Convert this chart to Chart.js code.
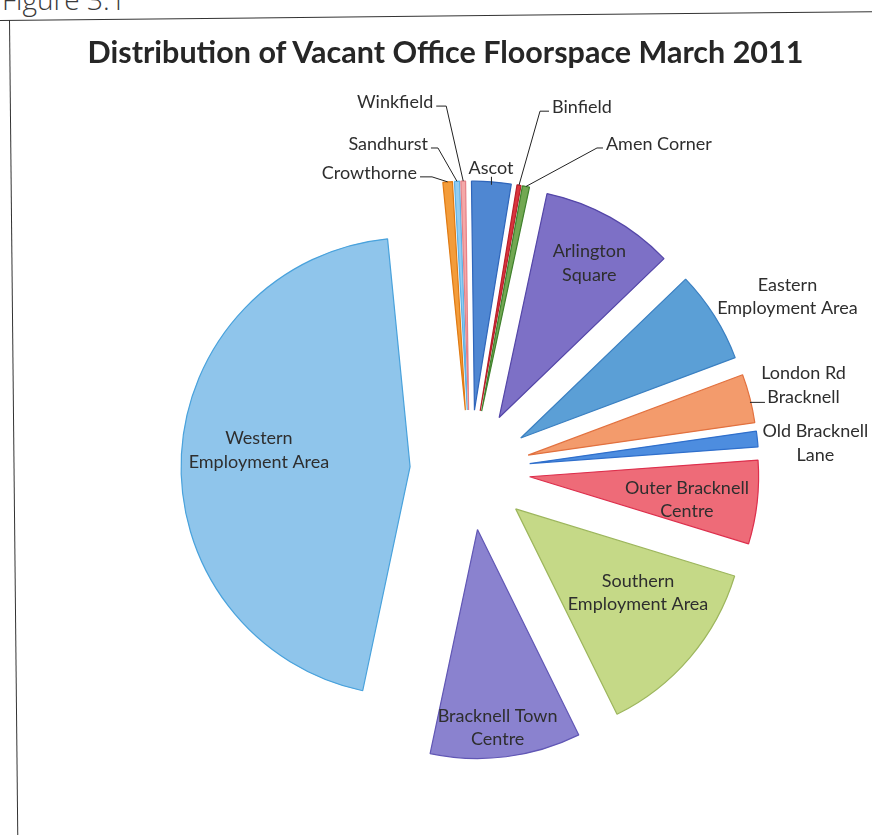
<!DOCTYPE html>
<html lang="en">
<head>
<meta charset="utf-8">
<title>Vacant Office Floorspace March 2011</title>
<script src="https://cdn.jsdelivr.net/npm/chart.js@4.4.1/dist/chart.umd.min.js"></script>
<style>
  html, body { margin: 0; padding: 0; background: #fff; }
  body { width: 872px; height: 835px; position: relative; overflow: hidden; }
  #fig-caption {
    position: absolute; left: 2px; top: -15px;
    font: 300 28px/28px "Open Sans", sans-serif; color: #3a3a3a; white-space: nowrap;
  }
  .rule-top, .rule-left { position: absolute; transform-origin: 0 0; transform: rotate(-0.58deg); }
  .rule-top { left: 0; top: 20px; width: 900px; border-top: 1.6px solid #333; }
  .rule-left { left: 9px; top: 20px; height: 900px; border-left: 1.6px solid #333; }
  #chart-title {
    position: absolute; left: 0; width: 891px; top: 36px; text-align: center;
    font: bold 30.5px/30.5px Lato, "Open Sans", sans-serif; color: #262626; white-space: nowrap;
  }
  #pie { position: absolute; left: 0; top: 0; }
</style>
</head>
<body>
<div id="fig-caption">Figure 3.1</div>
<div class="rule-top"></div>
<div class="rule-left"></div>
<canvas id="pie" width="872" height="835"></canvas>
<div id="chart-title">Distribution of Vacant Office Floorspace March 2011</div>

<script>
// share of vacant office floorspace by area (%), in pie order from 12 o'clock
const categories = [
  ["Ascot"],
  ["Binfield"],
  ["Amen Corner"],
  ["Arlington", "Square"],
  ["Eastern", "Employment Area"],
  ["London Rd", "Bracknell"],
  ["Old Bracknell", "Lane"],
  ["Outer Bracknell", "Centre"],
  ["Southern", "Employment Area"],
  ["Bracknell Town", "Centre"],
  ["Western", "Employment Area"],
  ["Crowthorne"],
  ["Sandhurst"],
  ["Winkfield"]
];
const vacantShare = [2.78, 0.28, 0.5, 9.44, 6.5, 3.44, 1.11, 5.89, 12.97, 10.61, 45.11, 0.67, 0.36, 0.33];

const sliceFill = [
  "#4f87d2", "#d9343c", "#72a852", "#7d70c6", "#5b9fd6", "#f39b6c", "#4d8ddf",
  "#ee6b78", "#c5d987", "#8a82cf", "#8fc5eb", "#f39c3a", "#92cdf2", "#f4a8a8"
];
const sliceEdge = [
  "#2f66bb", "#b81f2a", "#3f802c", "#5446a8", "#3b80c2", "#e2713f", "#2f6fcc",
  "#dd2f4c", "#9db65d", "#6157b5", "#49a2dc", "#e07a12", "#5fb1e4", "#e58087"
];

// where each label sits: inside = polar from the slice tip, outside = offset from the arc midpoint
const labelPlacement = [
  { at: "outside", dx: -0.4, dy: -14, align: "center", leader: "down" },
  { at: "outside", dx: 33, dy: -78, align: "left", leader: "elbow", run: 9 },
  { at: "outside", dx: 80, dy: -42.5, align: "left", leader: "elbow", run: 6 },
  { at: "inside", r: 0.78, turn: 1.25 },
  { at: "outside", dx: 73, dy: -19, align: "center" },
  { at: "outside", dx: 53.5, dy: -13.4, align: "center", leader: "flat", run: 15 },
  { at: "outside", dx: 58, dy: 4, align: "center" },
  { at: "inside", r: 0.694, turn: 1.8 },
  { at: "inside", r: 0.648, turn: -5.9 },
  { at: "inside", r: 0.869, turn: 1.35 },
  { at: "inside", r: 0.664, turn: 3.15 },
  { at: "outside", dx: -30.6, dy: -9, align: "right", leader: "elbow", run: 12 },
  { at: "outside", dx: -29, dy: -37.3, align: "right", leader: "elbow", run: 7 },
  { at: "outside", dx: -30, dy: -79, align: "right", leader: "elbow", run: 10 }
];

const EXPLODE = 60;
const LABEL_FONT = "18px Lato, 'Open Sans', sans-serif";
const LINE_HEIGHT = 23.5;

// every slice is pulled out from the centre by the same distance
const ArcEl = Chart.ArcElement || Chart.elements.ArcElement;
const baseArcDraw = ArcEl.prototype.draw;
ArcEl.prototype.draw = function (ctx) {
  const mid = (this.startAngle + this.endAngle) / 2;
  ctx.save();
  ctx.translate(Math.cos(mid) * EXPLODE, Math.sin(mid) * EXPLODE);
  baseArcDraw.call(this, ctx);
  ctx.restore();
};

const sliceLabels = {
  id: "sliceLabels",
  afterDatasetsDraw(chart) {
    const ctx = chart.ctx;
    const meta = chart.getDatasetMeta(0);
    ctx.save();
    ctx.font = LABEL_FONT;
    ctx.fillStyle = "#2e2e2e";
    ctx.strokeStyle = "#222";
    ctx.lineWidth = 1;
    ctx.textBaseline = "middle";

    meta.data.forEach((arc, i) => {
      const spot = labelPlacement[i];
      const lines = chart.data.labels[i];
      const mid = (arc.startAngle + arc.endAngle) / 2;
      const R = arc.outerRadius;
      const ex = arc.x + Math.cos(mid) * EXPLODE;
      const ey = arc.y + Math.sin(mid) * EXPLODE;
      let cx, cy;

      if (spot.at === "inside") {
        const a = mid + spot.turn * Math.PI / 180;
        cx = ex + Math.cos(a) * spot.r * R;
        cy = ey + Math.sin(a) * spot.r * R;
      } else {
        const px = ex + Math.cos(mid) * R;
        const py = ey + Math.sin(mid) * R;
        cx = px + spot.dx;
        cy = py + spot.dy;

        ctx.beginPath();
        if (spot.leader === "elbow") {
          const side = spot.align === "right" ? 1 : -1;
          ctx.moveTo(cx + side * 3, cy + 4);
          ctx.lineTo(cx + side * (3 + spot.run), cy + 4);
          ctx.lineTo(px, py);
        } else if (spot.leader === "down") {
          ctx.moveTo(px, cy + 9);
          ctx.lineTo(px, py + 3);
        } else if (spot.leader === "flat") {
          ctx.moveTo(px, py + 4);
          ctx.lineTo(px + spot.run, py + 4);
        }
        ctx.stroke();
      }

      ctx.textAlign = spot.align || "center";
      const top = cy - (lines.length - 1) * LINE_HEIGHT / 2;
      lines.forEach((t, k) => ctx.fillText(t, cx, top + k * LINE_HEIGHT));
    });
    ctx.restore();
  }
};

new Chart(document.getElementById("pie"), {
  type: "pie",
  data: {
    labels: categories,
    datasets: [{
      data: vacantShare,
      backgroundColor: sliceFill,
      borderColor: sliceEdge,
      borderWidth: 1.2,
      clip: false
    }]
  },
  options: {
    responsive: false,
    animation: false,
    radius: 229,
    rotation: -0.75,
    layout: { padding: { left: 68, right: 0, top: 105, bottom: 0 } },
    plugins: {
      legend: { display: false },
      title: { display: false },
      tooltip: { enabled: false }
    }
  },
  plugins: [sliceLabels]
});
</script>
</body>
</html>
